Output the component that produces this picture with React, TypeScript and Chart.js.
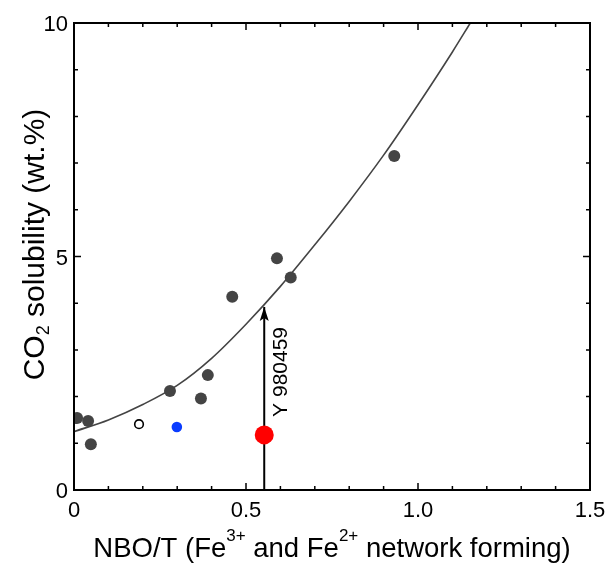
import React, { useEffect, useRef } from 'react';
import { Chart, registerables } from 'chart.js';

Chart.register(...registerables);

// ---- data ----
const xTickValues = [0, 0.5, 1.0, 1.5];
const xTickLabels = ['0', '0.5', '1.0', '1.5'];
const yTickValues = [0, 5, 10];
const yTickLabels = ['0', '5', '10'];

const grayX = [0.009, 0.041, 0.049, 0.279, 0.369, 0.389, 0.460, 0.590, 0.630, 0.931];
const grayY = [1.54, 1.48, 0.98, 2.12, 1.96, 2.46, 4.14, 4.96, 4.55, 7.15];
const openX = [0.189];
const openY = [1.41];
const blueX = [0.299];
const blueY = [1.35];
const redX = [0.553];
const redY = [1.18];

const fitX = [0, 0.1, 0.2, 0.3, 0.4, 0.5, 0.6, 0.7, 0.8, 0.9, 1.0, 1.1, 1.152];
const fitY = [1.25, 1.50, 1.83, 2.24, 2.82, 3.55, 4.36, 5.25, 6.18, 7.17, 8.25, 9.38, 10.0];

const arrowX = [0.553, 0.553];
const arrowY = [0, 3.92];
const arrowLabel = 'Y 980459';

const xTitleParts = [
  { t: 'NBO/T (Fe', sup: false },
  { t: '3+', sup: true },
  { t: ' and Fe', sup: false },
  { t: '2+', sup: true },
  { t: ' network forming)', sup: false },
];
const yTitleParts = [
  { t: 'CO', sub: false },
  { t: '2', sub: true },
  { t: ' solubility (wt.%)', sub: false },
];

const FONT = "'Liberation Sans', Arial, sans-serif";

const zip = (xs: number[], ys: number[]) => xs.map((x, i) => ({ x, y: ys[i] }));

const framePlugin = {
  id: 'framePlugin',
  afterDatasetsDraw(chart: any) {
    const ctx = chart.ctx as CanvasRenderingContext2D;
    const xs = chart.scales.x;
    const ys = chart.scales.y;
    const { left, right, top, bottom } = chart.chartArea;
    ctx.save();
    // arrow head
    const ax = xs.getPixelForValue(arrowX[1]);
    const ay = ys.getPixelForValue(arrowY[1]);
    ctx.fillStyle = '#000';
    ctx.beginPath();
    ctx.moveTo(ax, ay);
    ctx.lineTo(ax - 4.5, ay + 14);
    ctx.lineTo(ax, ay + 11);
    ctx.lineTo(ax + 4.5, ay + 14);
    ctx.closePath();
    ctx.fill();
    // arrow label
    ctx.save();
    ctx.translate(ax + 23, ys.getPixelForValue(redY[0]) - 18);
    ctx.rotate(-Math.PI / 2);
    ctx.font = `21px ${FONT}`;
    ctx.textAlign = 'left';
    ctx.textBaseline = 'alphabetic';
    ctx.fillText(arrowLabel, 0, 0);
    ctx.restore();

    // frame
    ctx.strokeStyle = '#000';
    ctx.lineWidth = 2;
    ctx.strokeRect(left, top, right - left, bottom - top);
    ctx.lineWidth = 1.5;
    ctx.beginPath();
    for (let i = 1; i < 15; i++) {
      const v = i / 10;
      const len = i % 5 === 0 ? 7 : 4;
      const px = xs.getPixelForValue(v);
      ctx.moveTo(px, bottom);
      ctx.lineTo(px, bottom - len);
      ctx.moveTo(px, top);
      ctx.lineTo(px, top + len);
    }
    for (let i = 1; i < 10; i++) {
      const len = i % 5 === 0 ? 7 : 4;
      const py = ys.getPixelForValue(i);
      ctx.moveTo(left, py);
      ctx.lineTo(left + len, py);
      ctx.moveTo(right, py);
      ctx.lineTo(right - len, py);
    }
    ctx.stroke();

    // tick labels
    ctx.fillStyle = '#000';
    ctx.font = `22px ${FONT}`;
    ctx.textBaseline = 'alphabetic';
    ctx.textAlign = 'center';
    xTickValues.forEach((v, i) => {
      ctx.fillText(xTickLabels[i], xs.getPixelForValue(v), bottom + 27);
    });
    ctx.textAlign = 'right';
    yTickValues.forEach((v, i) => {
      ctx.fillText(yTickLabels[i], left - 6, ys.getPixelForValue(v) + 8);
    });

    // x title
    const mainSize = 27.5;
    const supSize = 17;
    let widths = xTitleParts.map((p) => {
      ctx.font = `${p.sup ? supSize : mainSize}px ${FONT}`;
      return ctx.measureText(p.t).width;
    });
    let total = widths.reduce((a, b) => a + b, 0);
    let cx = (left + right) / 2 - total / 2;
    const baseY = bottom + 67;
    ctx.textAlign = 'left';
    xTitleParts.forEach((p, i) => {
      ctx.font = `${p.sup ? supSize : mainSize}px ${FONT}`;
      ctx.fillText(p.t, cx, p.sup ? baseY - 16 : baseY);
      cx += widths[i];
    });

    // y title
    const ySize = 30;
    const ySubSize = 18;
    ctx.save();
    const yMid = (top + bottom) / 2 - 12;
    ctx.translate(44, yMid);
    ctx.rotate(-Math.PI / 2);
    widths = yTitleParts.map((p) => {
      ctx.font = `${p.sub ? ySubSize : ySize}px ${FONT}`;
      return ctx.measureText(p.t).width;
    });
    total = widths.reduce((a, b) => a + b, 0);
    let tx = -total / 2;
    yTitleParts.forEach((p, i) => {
      ctx.font = `${p.sub ? ySubSize : ySize}px ${FONT}`;
      ctx.fillText(p.t, tx, p.sub ? 5 : 0);
      tx += widths[i];
    });
    ctx.restore();

    ctx.restore();
  },
};

export default function App() {
  const ref = useRef<HTMLCanvasElement | null>(null);
  useEffect(() => {
    if (!ref.current) return;
    const chart = new Chart(ref.current, {
      type: 'scatter',
      data: {
        datasets: [
          {
            label: 'red',
            data: zip(redX, redY),
            backgroundColor: '#ff0000',
            borderWidth: 0,
            pointRadius: 9.5,
            order: 0,
          },
          {
            label: 'gray',
            data: zip(grayX, grayY),
            backgroundColor: '#444444',
            borderWidth: 0,
            pointRadius: 6,
            order: 1,
          },
          {
            label: 'open',
            data: zip(openX, openY),
            backgroundColor: '#ffffff',
            borderColor: '#000000',
            borderWidth: 1.6,
            pointRadius: 4.3,
            order: 1,
          },
          {
            label: 'blue',
            data: zip(blueX, blueY),
            backgroundColor: '#0a3cff',
            borderWidth: 0,
            pointRadius: 5.3,
            order: 1,
          },
          {
            label: 'arrow',
            data: zip(arrowX, arrowY),
            showLine: true,
            borderColor: '#000000',
            borderWidth: 2,
            pointRadius: 0,
            order: 3,
          },
          {
            label: 'fit',
            data: zip(fitX, fitY),
            showLine: true,
            borderColor: '#444444',
            borderWidth: 1.6,
            pointRadius: 0,
            cubicInterpolationMode: 'monotone',
            order: 4,
          },
        ],
      },
      options: {
        animation: false,
        responsive: false,
        devicePixelRatio: 1,
        layout: { padding: { left: 74, top: 23, right: 23, bottom: 73 } },
        plugins: { legend: { display: false }, tooltip: { enabled: false } },
        events: [],
        scales: {
          x: { type: 'linear', min: 0, max: 1.5, display: false },
          y: { type: 'linear', min: 0, max: 10, display: false },
        },
      },
      plugins: [framePlugin],
    } as any);
    return () => chart.destroy();
  }, []);
  return (
    <div style={{ position: 'absolute', left: 0, top: 0, width: 613, height: 563, background: '#fff' }}>
      <canvas ref={ref} width={613} height={563} style={{ width: 613, height: 563 }} />
    </div>
  );
}
